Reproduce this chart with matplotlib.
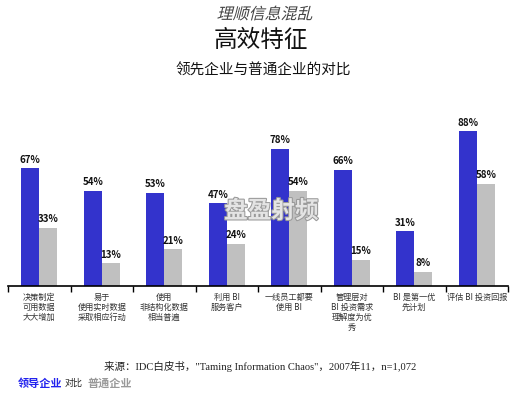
import matplotlib.pyplot as plt
import matplotlib.patheffects as pe
from matplotlib.textpath import TextPath
from matplotlib.patches import PathPatch
from matplotlib.font_manager import FontProperties
from matplotlib.transforms import Affine2D, IdentityTransform
import numpy as np

plt.rcParams['font.family'] = ['Noto Sans CJK SC', 'DejaVu Sans']

categories = ["决策制定\n可用数据\n大大增加",
              "易于\n使用实时数据\n采取相应行动",
              "使用\n非结构化数据\n相当普遍",
              "利用 BI\n服务客户",
              "一线员工都要\n使用 BI",
              "管理层对\nBI 投资需求\n理解度为优\n秀",
              "BI 是第一优\n先计划",
              "评估 BI 投资回报"]
leaders = [67, 54, 53, 47, 78, 66, 31, 88]
average = [33, 13, 21, 24, 54, 15, 8, 58]

blue = '#3333cc'
grey = '#c0c0c0'

fig = plt.figure(figsize=(5.12, 3.93), dpi=100)
ax = fig.add_axes([8 / 512, (393 - 286) / 393, 500 / 512, 176 / 393])

x = np.arange(len(categories))
w = 0.29
ax.bar(x + 0.5 - w / 2, leaders, w, color=blue)
ax.bar(x + 0.5 + w / 2, average, w, color=grey)

for i in range(len(categories)):
    ax.text(x[i] + 0.5 - w / 2, leaders[i] + 2, f"{leaders[i]}%", ha='center', va='bottom',
            fontsize=7, fontweight='bold', color='#111111')
    ax.text(x[i] + 0.5 + w / 2, average[i] + 2, f"{average[i]}%", ha='center', va='bottom',
            fontsize=7, fontweight='bold', color='#111111')
    ax.text(x[i] + 0.5, -4.0, categories[i], ha='center', va='top', fontsize=5.9,
            color='#333333', linespacing=1.15)

ax.set_xlim(0, 8)
ax.set_ylim(0, 100)
for s in ['left', 'right', 'top']:
    ax.spines[s].set_visible(False)
ax.spines['bottom'].set_linewidth(1.2)
ax.set_xticks(np.arange(0, 9))
ax.set_xticklabels([])
ax.set_yticks([])
ax.tick_params(axis='x', direction='out', length=4, width=1)

# watermark
fig.text(0.53, 1 - 211 / 393, "盘盈射频", ha='center', va='center', fontsize=17, color='#e4e4e4',
         fontweight='bold',
         path_effects=[pe.withStroke(linewidth=1.5, foreground='#999999')])

# italic-looking top title (CJK font has no italic, so shear the glyph outlines)
fp = FontProperties(family='Noto Sans CJK SC', size=11.5 * 100 / 72)
tp = TextPath((0, 0), "理顺信息混乱", prop=fp)
ext = tp.get_extents()
cx, cy = 266, 393 - 13
tr = (Affine2D().translate(-(ext.x0 + ext.x1) / 2, -(ext.y0 + ext.y1) / 2)
      .skew_deg(14, 0).translate(cx, cy))
fig.patches.append(PathPatch(tr.transform_path(tp), facecolor='#444444', edgecolor='none',
                             transform=IdentityTransform(), figure=fig))

fig.text(0.51, 1 - 40 / 393, "高效特征", ha='center', va='center', fontsize=17, color='#111111')
fig.text(0.515, 1 - 71 / 393, "领先企业与普通企业的对比", ha='center', va='center', fontsize=10.5,
         color='#111111')

fig.text(0.508, 1 - 366 / 393, "来源：IDC白皮书，\"Taming Information Chaos\"，2007年11，n=1,072",
         ha='center', va='center', fontsize=7.6, color='#222222',
         family=['Liberation Serif', 'Noto Sans CJK SC'])

fig.text(18 / 512, 1 - 383 / 393, "领导企业", ha='left', va='center', fontsize=8,
         fontweight='bold', color='#2222ee')
fig.text(65 / 512, 1 - 383 / 393, "对比", ha='left', va='center', fontsize=6.5, color='#222222')
fig.text(88 / 512, 1 - 383 / 393, "普通企业", ha='left', va='center', fontsize=8,
         fontweight='bold', color='#999999')

fig.savefig('out.png', dpi=100)
